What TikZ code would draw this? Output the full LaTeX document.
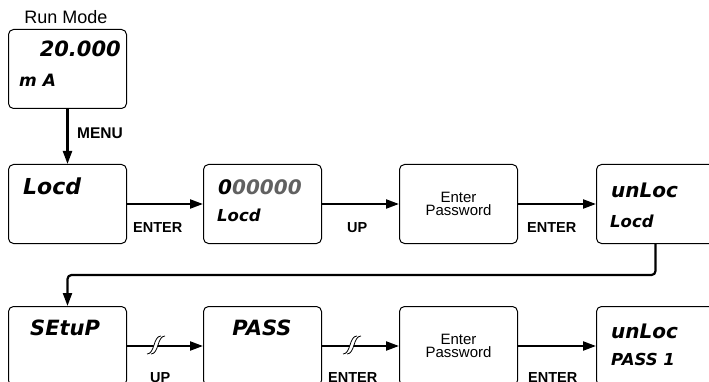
\documentclass[tikz,border=0pt]{standalone}
\usepackage{fontspec}
\setmainfont{Liberation Sans}
\newfontfamily\lcd{DejaVu Sans}
\usetikzlibrary{arrows.meta}
\definecolor{dimdigit}{gray}{0.38}
\tikzset{
 disp/.style={draw, line width=1pt, rounded corners=5pt, minimum width=118pt, minimum height=79pt, anchor=north west, inner sep=0pt},
 pwbox/.style={disp, align=center, font=\fontsize{15}{13.5}\selectfont},
 arr/.style={line width=2.2pt, -{Triangle[length=13pt,width=9pt]}},
 keylbl/.style={font=\fontsize{14.5}{14.5}\selectfont\bfseries, anchor=base west, inner sep=0pt},
 biglcd/.style={font=\lcd\fontsize{21}{21}\selectfont\bfseries\itshape, anchor=base west, inner sep=0pt},
 smalllcd/.style={font=\lcd\fontsize{16.5}{16.5}\selectfont\bfseries\itshape, anchor=base west, inner sep=0pt},
 brk/.pic={
   \fill[white] (-7,9) .. controls (1,9) and (-1,-9) .. (7,-9) -- (11,-9) .. controls (3,-9) and (5,9) .. (-3,9) -- cycle;
   \draw[line width=0.8pt] (-7,9) .. controls (1,9) and (-1,-9) .. (7,-9);
   \draw[line width=0.8pt] (-3,9) .. controls (5,9) and (3,-9) .. (11,-9);
 }
}
\begin{document}
\begin{tikzpicture}[x=1pt,y=-1pt]
\clip (0,0) rectangle (709,382);
% run mode
\node[anchor=base, font=\fontsize{18}{18}\selectfont, inner sep=0pt] (rmlbl) at (66,24) {Run Mode};
\node[disp] (run) at (8,29) {};
\node[biglcd, anchor=base east] (v20) at (121,57) {20.000};
\node[smalllcd, font=\lcd\fontsize{17}{17}\selectfont\bfseries\itshape] (mA) at (19,87) {m A};
% row 1
\node[disp] (a1) at (8,164) {};
\node[disp] (a2) at (203,164) {};
\node[pwbox] (a3) at (399,164) {Enter\\Password};
\node[disp] (a4) at (596,164) {};
\node[biglcd, font=\lcd\fontsize{22}{22}\selectfont\bfseries\itshape] (t1) at (23,194) {Locd};
\node[biglcd, font=\lcd\fontsize{20}{20}\selectfont\bfseries\itshape] (t2) at (218,195) {0\textcolor{dimdigit}{00000}};
\node[smalllcd] (t2b) at (217,222) {Locd};
\node[biglcd, font=\lcd\fontsize{20}{20}\selectfont\bfseries\itshape] (t4) at (611,197) {unLoc};
\node[smalllcd] (t4b) at (610,227) {Locd};
\draw[arr] (run.south) -- (a1.north);
\node[keylbl, font=\fontsize{15.5}{15.5}\selectfont\bfseries] (kmenu) at (77,139) {MENU};
\draw[arr] (a1.east) -- (a2.west);
\draw[arr] (a2.east) -- (a3.west);
\draw[arr] (a3.east) -- (a4.west);
\node[keylbl] (k1) at (133,232) {ENTER};
\node[keylbl] (k2) at (347,232) {UP};
\node[keylbl] (k3) at (527,232) {ENTER};
% row 2
\node[disp] (c1) at (8,306) {};
\node[disp] (c2) at (203,306) {};
\node[pwbox] (c3) at (399,306) {Enter\\Password};
\node[disp] (c4) at (596,306) {};
\node[biglcd] (s1) at (30,335) {SEtuP};
\node[biglcd, anchor=base] (s2) at (262,335) {PASS};
\node[biglcd, font=\lcd\fontsize{20}{20}\selectfont\bfseries\itshape] (s4) at (611,338) {unLoc};
\node[smalllcd] (s4b) at (611,365) {PASS 1};
\coordinate (turn) at (0,275);
\draw[arr, rounded corners=4pt] (a4.south) -- (a4.south |- turn) -- (turn -| c1.north) -- (c1.north);
\draw[arr] (c1.east) -- (c2.west);
\draw[arr] (c2.east) -- (c3.west);
\draw[arr] (c3.east) -- (c4.west);
\pic at (154,345) {brk};
\pic at (350,345) {brk};
\node[keylbl] (m1) at (150,382) {UP};
\node[keylbl] (m2) at (328,382) {ENTER};
\node[keylbl] (m3) at (528,382) {ENTER};
\end{tikzpicture}
\end{document}
